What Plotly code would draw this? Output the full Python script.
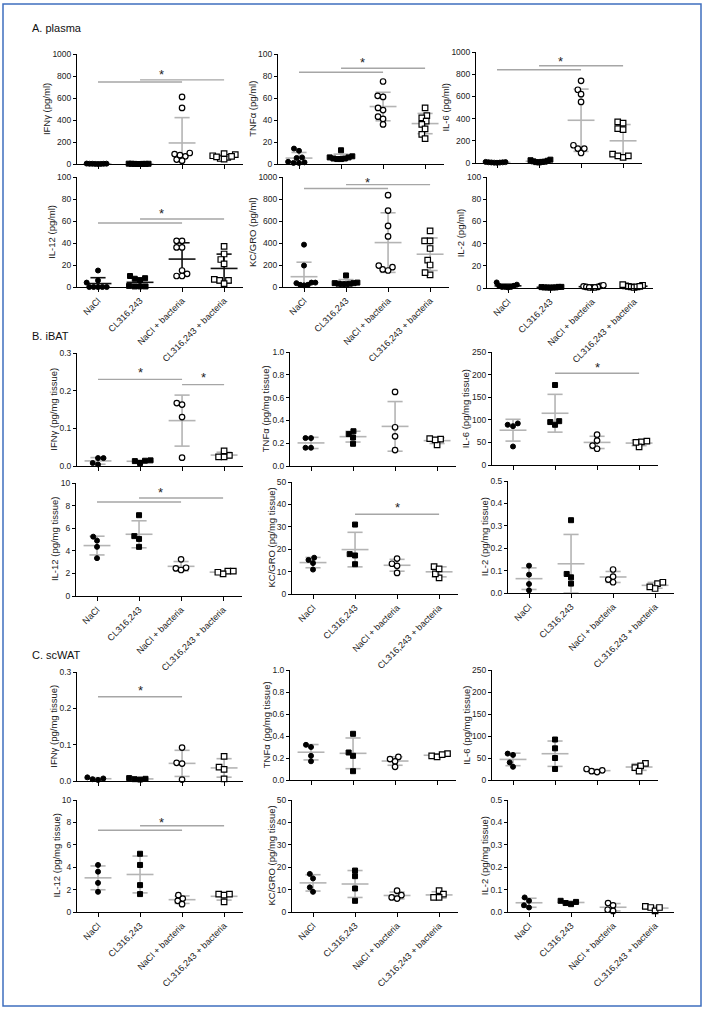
import numpy as np
import plotly.graph_objects as go

W, H = 705, 1011
categories = ["NaCl", "CL316,243", "NaCl + bacteria", "CL316,243 + bacteria"]

# ---------------- data (order: NaCl, CL316,243, NaCl+bacteria, CL316,243+bacteria)
plasma_IFNg = [[2, 1, 3, 0, 2, 1, 4, 2],
               [1, 2, 0, 3, 1, 2, 1, 0],
               [610, 510, 90, 70, 100, 30, 40, 80],
               [60, 75, 50, 85, 95, 45, 65, 70]]
plasma_TNFa = [[14, 12, 6, 5.5, 1.5, 1, 1, 2],
               [12.5, 7, 6, 6, 5, 5, 4.5, 4.5],
               [75, 62, 61, 49, 51, 43, 41, 36],
               [51, 44, 42, 39, 36, 32, 27, 23]]
plasma_IL6 = [[5, 8, 3, 10, 2, 6, 4, 7],
              [25, 30, 15, 10, 20, 5, 8, 12],
              [740, 660, 620, 550, 90, 130, 130, 160],
              [370, 360, 310, 300, 50, 80, 65, 65]]
plasma_IL12 = [[15, 6, 4, 0, 0, 0, 0, 0],
               [10, 8, 7.5, 6, 1, 0.5, 0.5, 0.5],
               [42, 42, 36, 36, 15, 12, 10, 10],
               [37, 30, 25, 21, 7, 6, 6, 3]]
plasma_KC = [[385, 195, 35, 40, 20, 15, 20, 40],
             [105, 40, 35, 30, 30, 25, 25, 35],
             [835, 695, 555, 460, 180, 150, 160, 195],
             [510, 420, 420, 350, 245, 200, 110, 130]]
plasma_IL2 = [[5, 3, 2, 2, 1, 1, 1, 0.5],
              [1, 0.5, 1, 0.5, 0.5, 0.3, 0.8, 0.5],
              [2, 2.5, 1.5, 1, 0.5, 0.5, 1, 0.5],
              [2.5, 2, 1.5, 1, 3, 0.5, 1, 1.5]]

iBAT_IFNg = [[0.021, 0.021, 0.004, 0.008], [0.014, 0.008, 0.013, 0.015],
             [0.163, 0.167, 0.130, 0.022], [0.028, 0.024, 0.024, 0.040]]
iBAT_TNFa = [[0.245, 0.245, 0.16, 0.16], [0.305, 0.25, 0.28, 0.195],
             [0.65, 0.34, 0.26, 0.14], [0.235, 0.185, 0.23, 0.24]]
iBAT_IL6 = [[89, 86, 92, 41], [177, 97, 89, 95], [67, 36, 43, 54], [51, 40, 50, 53]]
iBAT_IL12 = [[4.9, 5.25, 4.35, 3.35], [7.15, 5.3, 5.05, 4.35],
             [3.25, 2.45, 2.3, 2.5], [2.2, 1.95, 2.1, 2.2]]
iBAT_KC = [[15.2, 13.8, 16.2, 10.9], [31, 17.8, 17.2, 13.3],
           [15.8, 13.5, 12.6, 9.4], [12.2, 7.2, 9, 11.2]]
iBAT_IL2 = [[0.122, 0.082, 0.04, 0.012], [0.325, 0.085, 0.07, 0.042],
            [0.073, 0.105, 0.048, 0.06], [0.042, 0.02, 0.027, 0.048]]

scWAT_IFNg = [[0.005, 0.003, 0.007, 0.010], [0.005, 0.004, 0.006, 0.008],
              [0.092, 0.05, 0.048, 0.004], [0.068, 0.038, 0.032, 0.006]]
scWAT_TNFa = [[0.32, 0.30, 0.22, 0.17], [0.42, 0.25, 0.22, 0.08],
              [0.21, 0.17, 0.19, 0.12], [0.24, 0.22, 0.21, 0.23]]
scWAT_IL6 = [[60, 57, 40, 30], [92, 72, 50, 25], [22, 18, 20, 25], [38, 32, 28, 20]]
scWAT_IL12 = [[4.2, 3.6, 2.6, 1.8], [5.2, 4.2, 2.4, 1.6], [1.5, 1.2, 1.0, 0.7], [1.6, 1.5, 1.6, 0.9]]
scWAT_KC = [[17, 15, 11, 9], [18.5, 16, 10.5, 5], [9.5, 7.5, 6.5, 6], [9.5, 8, 6.5, 6.5]]
scWAT_IL2 = [[0.065, 0.05, 0.03, 0.02], [0.05, 0.04, 0.045, 0.035],
             [0.04, 0.03, 0.01, 0.005], [0.025, 0.02, 0.005, 0.02]]

# significance bars: (from group, to group, y) ; stars: (x, y)
sig_plasma_IFNg = [(0, 2, 745), (1, 3, 765)]; star_plasma_IFNg = [(1.5, 845)]
sig_plasma_TNFa = [(0, 2, 83.4), (1, 3, 87)]; star_plasma_TNFa = [(1.5, 95)]
sig_plasma_IL6 = [(0, 2, 840), (1, 3, 876)]; star_plasma_IL6 = [(1.5, 937)]
sig_plasma_IL12 = [(0, 2, 58.2), (1, 3, 61.8)]; star_plasma_IL12 = [(1.5, 69.6)]
sig_plasma_KC = [(0, 2, 895), (1, 3, 931)]; star_plasma_KC = [(1.5, 976)]
sig_iBAT_IFNg = [(0, 2, 0.23), (2, 3, 0.216)]; star_iBAT_IFNg = [(1, 0.257), (2.5, 0.244)]
sig_iBAT_IL6 = [(1, 3, 203)]; star_iBAT_IL6 = [(2, 223)]
sig_iBAT_IL12 = [(0, 2, 8.32), (1, 3, 8.67)]; star_iBAT_IL12 = [(1.5, 9.4)]
sig_iBAT_KC = [(1, 3, 35.6)]; star_iBAT_KC = [(2, 39.9)]
sig_scWAT_IFNg = [(0, 2, 0.232)]; star_scWAT_IFNg = [(1, 0.258)]
sig_scWAT_IL12 = [(0, 2, 7.3), (1, 3, 7.7)]; star_scWAT_IL12 = [(1.5, 8.3)]

# ---------------- layout of panels (pixel boxes)
GRAY = "#b4b4b4"
panels = [
    # data, title, ymax, dtick, fmt, x0px, ytop, ybot, bottom_row, sig, stars, meancolor
    (plasma_IFNg, "IFNγ (pg/ml)", 1000, 200, "d", 77, 54, 164, False, sig_plasma_IFNg, star_plasma_IFNg, GRAY),
    (plasma_TNFa, "TNFα (pg/ml)", 100, 20, "d", 278, 54, 164, False, sig_plasma_TNFa, star_plasma_TNFa, GRAY),
    (plasma_IL6, "IL-6 (pg/ml)", 1000, 200, "d", 476, 52, 163, False, sig_plasma_IL6, star_plasma_IL6, GRAY),
    (plasma_IL12, "IL-12 (pg/ml)", 100, 20, "d", 77, 177, 287, True, sig_plasma_IL12, star_plasma_IL12, "#111111"),
    (plasma_KC, "KC/GRO (pg/ml)", 1000, 200, "d", 283, 177, 287, True, sig_plasma_KC, star_plasma_KC, GRAY),
    (plasma_IL2, "IL-2 (pg/ml)", 100, 20, "d", 487, 177, 288, True, [], [], "#111111"),
    (iBAT_IFNg, "IFNγ (pg/mg tissue)", 0.3, 0.1, ".1f", 77, 353, 466, False, sig_iBAT_IFNg, star_iBAT_IFNg, GRAY),
    (iBAT_TNFa, "TNFα (pg/mg tissue)", 1.0, 0.2, ".1f", 290, 352, 466, False, [], [], GRAY),
    (iBAT_IL6, "IL-6 (pg/mg tissue)", 250, 50, "d", 492, 352, 465, False, sig_iBAT_IL6, star_iBAT_IL6, GRAY),
    (iBAT_IL12, "IL-12 (pg/mg tissue)", 10, 2, "d", 76, 483, 596, True, sig_iBAT_IL12, star_iBAT_IL12, GRAY),
    (iBAT_KC, "KC/GRO (pg/mg tissue)", 50, 10, "d", 292, 482, 594, True, sig_iBAT_KC, star_iBAT_KC, GRAY),
    (iBAT_IL2, "IL-2 (pg/mg tissue)", 0.5, 0.1, ".1f", 508, 481, 593, True, [], [], GRAY),
    (scWAT_IFNg, "IFNγ (pg/mg tissue)", 0.3, 0.1, ".1f", 77, 672, 781, False, sig_scWAT_IFNg, star_scWAT_IFNg, GRAY),
    (scWAT_TNFa, "TNFα (pg/mg tissue)", 1.0, 0.2, ".1f", 290, 670, 780, False, [], [], GRAY),
    (scWAT_IL6, "IL-6 (pg/mg tissue)", 250, 50, "d", 492, 670, 780, False, [], [], GRAY),
    (scWAT_IL12, "IL-12 (pg/mg tissue)", 10, 2, "d", 77, 800, 912, True, sig_scWAT_IL12, star_scWAT_IL12, GRAY),
    (scWAT_KC, "KC/GRO (pg/mg tissue)", 50, 10, "d", 292, 800, 912, True, [], [], GRAY),
    (scWAT_IL2, "IL-2 (pg/mg tissue)", 0.5, 0.1, ".1f", 508, 800, 912, True, [], [], GRAY),
]

XR = [-0.5, 3.45]
PANEL_W = 166
UNIT_PX = PANEL_W / (XR[1] - XR[0])
FONT = "Arial, Liberation Sans, sans-serif"
YTICK_SIZE = 8.5
MAX_HALF = 0.27  # max spread of a group (category units)

marker_styles = [
    dict(symbol="circle", color="black", size=5, line=dict(color="black", width=1)),
    dict(symbol="square", color="black", size=5, line=dict(color="black", width=1)),
    dict(symbol="circle", color="white", size=5.5, line=dict(color="black", width=1.2)),
    dict(symbol="square", color="white", size=5.5, line=dict(color="black", width=1.2)),
]


def label_width(ymax, dtick, fmt):
    """approx. pixel width of widest y tick label (Arial metrics)"""
    w = 0.0
    for t in np.arange(0, ymax + dtick / 2, dtick):
        s = format(int(round(t)), "d") if fmt == "d" else format(t, fmt)
        w = max(w, sum(0.278 if c == "." else 0.556 for c in s) * YTICK_SIZE)
    return w


def swarm(vals, ymax, hpx, D=5.5):
    """beeswarm offsets (in category units) for one group"""
    placed = []
    xs = [0.0] * len(vals)
    order = sorted(range(len(vals)), key=lambda i: vals[i])
    for i in order:
        y = vals[i] / ymax * hpx
        cands = [0.0]
        for (px, py) in placed:
            dy = abs(py - y)
            if dy < D:
                dx = np.sqrt(D * D - dy * dy)
                cands += [px + dx, px - dx]
        cands.sort(key=lambda c: (abs(c), c))
        for c in cands:
            if all((c - px) ** 2 + (y - py) ** 2 >= D * D - 1e-6 for px, py in placed):
                xs[i] = c
                break
        placed.append((xs[i], y))
    offs = np.array(xs) / UNIT_PX
    m = np.abs(offs).max()
    if m > MAX_HALF:
        offs = offs * MAX_HALF / m
    return list(offs)


fig = go.Figure()
annotations = []

for k, (data, title, ymax, dtick, fmt, x0, ytop, ybot, bottom, sig, stars, mcol) in enumerate(panels, start=1):
    xa = "x" if k == 1 else f"x{k}"
    ya = "y" if k == 1 else f"y{k}"
    hpx = ybot - ytop

    # mean +/- SD lines
    lx, ly = [], []
    for g, vals in enumerate(data):
        v = np.array(vals, dtype=float)
        m, s = v.mean(), v.std(ddof=1)
        lx += [g - 0.32, g + 0.32, None, g, g, None,
               g - 0.18, g + 0.18, None, g - 0.18, g + 0.18, None]
        ly += [m, m, None, m - s, m + s, None,
               m + s, m + s, None, m - s, m - s, None]
    fig.add_trace(go.Scatter(x=lx, y=ly, mode="lines", xaxis=xa, yaxis=ya,
                             line=dict(color=mcol, width=1.6), hoverinfo="skip", showlegend=False))

    # significance bars
    if sig:
        sx, sy = [], []
        for a, b, yv in sig:
            sx += [a, b, None]
            sy += [yv, yv, None]
        fig.add_trace(go.Scatter(x=sx, y=sy, mode="lines", xaxis=xa, yaxis=ya,
                                 line=dict(color="#a6a6a6", width=1.4), hoverinfo="skip", showlegend=False))
    for sxv, syv in stars:
        annotations.append(dict(x=sxv, y=syv, xref=xa, yref=ya, text="*", showarrow=False,
                                font=dict(size=13, color="#222222", family=FONT), yshift=-3))

    # points
    for g, vals in enumerate(data):
        offs = swarm(vals, ymax, hpx)
        fig.add_trace(go.Scatter(x=[g + o for o in offs], y=vals, mode="markers",
                                 xaxis=xa, yaxis=ya, marker=marker_styles[g],
                                 cliponaxis=False, showlegend=False, name=categories[g]))

    xdom = [x0 / W, (x0 + PANEL_W) / W]
    ydom = [1 - ybot / H, 1 - ytop / H]
    xkey = "xaxis" if k == 1 else f"xaxis{k}"
    ykey = "yaxis" if k == 1 else f"yaxis{k}"
    fig.layout[xkey] = dict(
        domain=xdom, anchor=ya, range=XR, tickmode="array", tickvals=[0, 1, 2, 3],
        ticktext=categories if bottom else ["", "", "", ""], tickangle=-45,
        showline=True, linecolor="black", linewidth=1, ticks="outside", ticklen=4,
        tickcolor="black", showgrid=False, zeroline=False, fixedrange=True,
        tickfont=dict(size=9, family=FONT, color="#222222"), automargin=False)
    fig.layout[ykey] = dict(
        domain=ydom, anchor=xa, range=[0, ymax], tickmode="linear", tick0=0, dtick=dtick,
        tickformat=fmt, showline=True, linecolor="black", linewidth=1, ticks="outside",
        ticklen=3, tickcolor="black", showgrid=False, zeroline=False, fixedrange=True,
        tickfont=dict(size=YTICK_SIZE, family=FONT, color="#222222"), automargin=False)
    # y-axis title as rotated annotation, placed just left of the tick labels
    toff = 3 + 2 + label_width(ymax, dtick, fmt) + 7
    annotations.append(dict(x=(x0 - toff) / W, y=1 - (ytop + ybot) / 2 / H, xref="paper", yref="paper",
                            text=title, textangle=-90, showarrow=False, xanchor="center", yanchor="middle",
                            font=dict(size=9.5, family=FONT, color="#222222")))

for text, ypx in [("A. plasma", 28), ("B. iBAT", 336), ("C. scWAT", 655)]:
    annotations.append(dict(x=30 / W, y=1 - ypx / H, xref="paper", yref="paper", text=text,
                            showarrow=False, xanchor="left", yanchor="middle",
                            font=dict(size=11, family=FONT, color="#111111")))

fig.update_layout(
    width=W, height=H, margin=dict(l=0, r=0, t=0, b=0),
    paper_bgcolor="white", plot_bgcolor="white", showlegend=False,
    annotations=annotations,
    shapes=[dict(type="rect", xref="paper", yref="paper",
                 x0=3 / W, x1=701 / W, y0=1 - 1006 / H, y1=1 - 4 / H,
                 line=dict(color="#3f6fbf", width=1.5), fillcolor="rgba(0,0,0,0)")],
)

fig.write_html("out.html", config={"displayModeBar": False},
               post_script="document.body.style.margin='0px';document.body.style.overflow='hidden';")
